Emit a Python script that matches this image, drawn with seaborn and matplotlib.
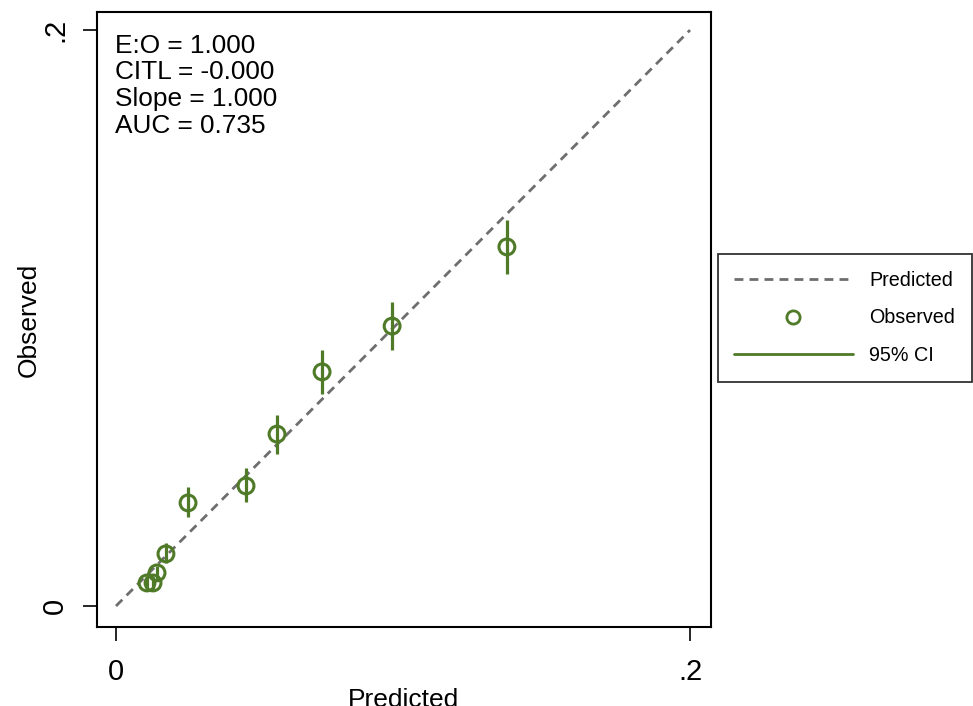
import numpy as np
import pandas as pd
import seaborn as sns
import matplotlib
matplotlib.use("Agg")
import matplotlib.pyplot as plt
from matplotlib.lines import Line2D

# calibration groups
predicted = [0.0108, 0.0129, 0.0143, 0.0174, 0.0251, 0.0453, 0.0561, 0.0718, 0.0962, 0.1362]
observed = [0.0080, 0.0080, 0.0115, 0.0181, 0.0358, 0.0417, 0.0597, 0.0813, 0.0972, 0.1247]
ci_low = [0.0060, 0.0060, 0.0090, 0.0149, 0.0309, 0.0361, 0.0528, 0.0736, 0.0889, 0.1153]
ci_high = [0.0100, 0.0100, 0.0140, 0.0219, 0.0413, 0.0479, 0.0663, 0.0889, 0.1056, 0.1340]

stats_text = ["E:O = 1.000", "CITL = -0.000", "Slope = 1.000", "AUC = 0.735"]
diag = [0, 0.2]

green = "#4f7a28"
grey = "#6e6e6e"

sns.set_style("ticks")
plt.rcParams["font.family"] = ["Liberation Sans", "DejaVu Sans"]
plt.rcParams["text.color"] = "black"
plt.rcParams["axes.labelcolor"] = "black"
plt.rcParams["xtick.color"] = "black"
plt.rcParams["ytick.color"] = "black"

df = pd.DataFrame({"pred": predicted, "obs": observed, "lo": ci_low, "hi": ci_high})

fig = plt.figure(figsize=(9.73, 7.06), dpi=100)
ax = fig.add_axes([0.0997, 0.1119, 0.631, 0.871])

sns.lineplot(x=diag, y=diag, ax=ax, color=grey, linestyle=(0, (3.2, 2.2)), linewidth=2)
ax.vlines(df["pred"], df["lo"], df["hi"], color=green, linewidth=2.3, zorder=3)
sns.scatterplot(data=df, x="pred", y="obs", ax=ax, marker="o", s=130,
                facecolor="none", edgecolor=green, linewidth=2.2, zorder=4)

ax.set_xlim(-0.00662, 0.2073)
ax.set_ylim(-0.00729, 0.20625)
ax.set_xticks([0, 0.2])
ax.set_xticklabels(["0", ".2"])
ax.set_yticks([0, 0.2])
ax.set_yticklabels(["0", ".2"], rotation=90, va="center")
ax.tick_params(axis="both", labelsize=21, length=10, width=1.2)
ax.tick_params(axis="x", pad=12)
ax.tick_params(axis="y", pad=10)
for s in ax.spines.values():
    s.set_linewidth(1.5)
    s.set_color("black")
ax.set_xlabel("Predicted", fontsize=19, labelpad=2)
ax.set_ylabel("Observed", fontsize=19, labelpad=0)

ax.text(0.03, 0.965, "\n".join(stats_text), transform=ax.transAxes, fontsize=18.9,
        va="top", ha="left", linespacing=1.15)

handles = [
    Line2D([], [], color=grey, linestyle=(0, (3.2, 2.2)), linewidth=2),
    Line2D([], [], color=green, marker="o", linestyle="none", markersize=9.5,
           markerfacecolor="none", markeredgewidth=2),
    Line2D([], [], color=green, linewidth=2),
]
leg = fig.legend(handles, ["Predicted", "Observed", "95% CI"], loc="center right",
                 bbox_to_anchor=(0.999, 0.5496), fontsize=14.2, frameon=True,
                 fancybox=False, edgecolor="black", handlelength=6.0,
                 handletextpad=0.85, labelspacing=0.95, borderpad=0.85,
                 borderaxespad=0)
leg.get_frame().set_linewidth(1.3)

fig.savefig("out.png", dpi=100)
